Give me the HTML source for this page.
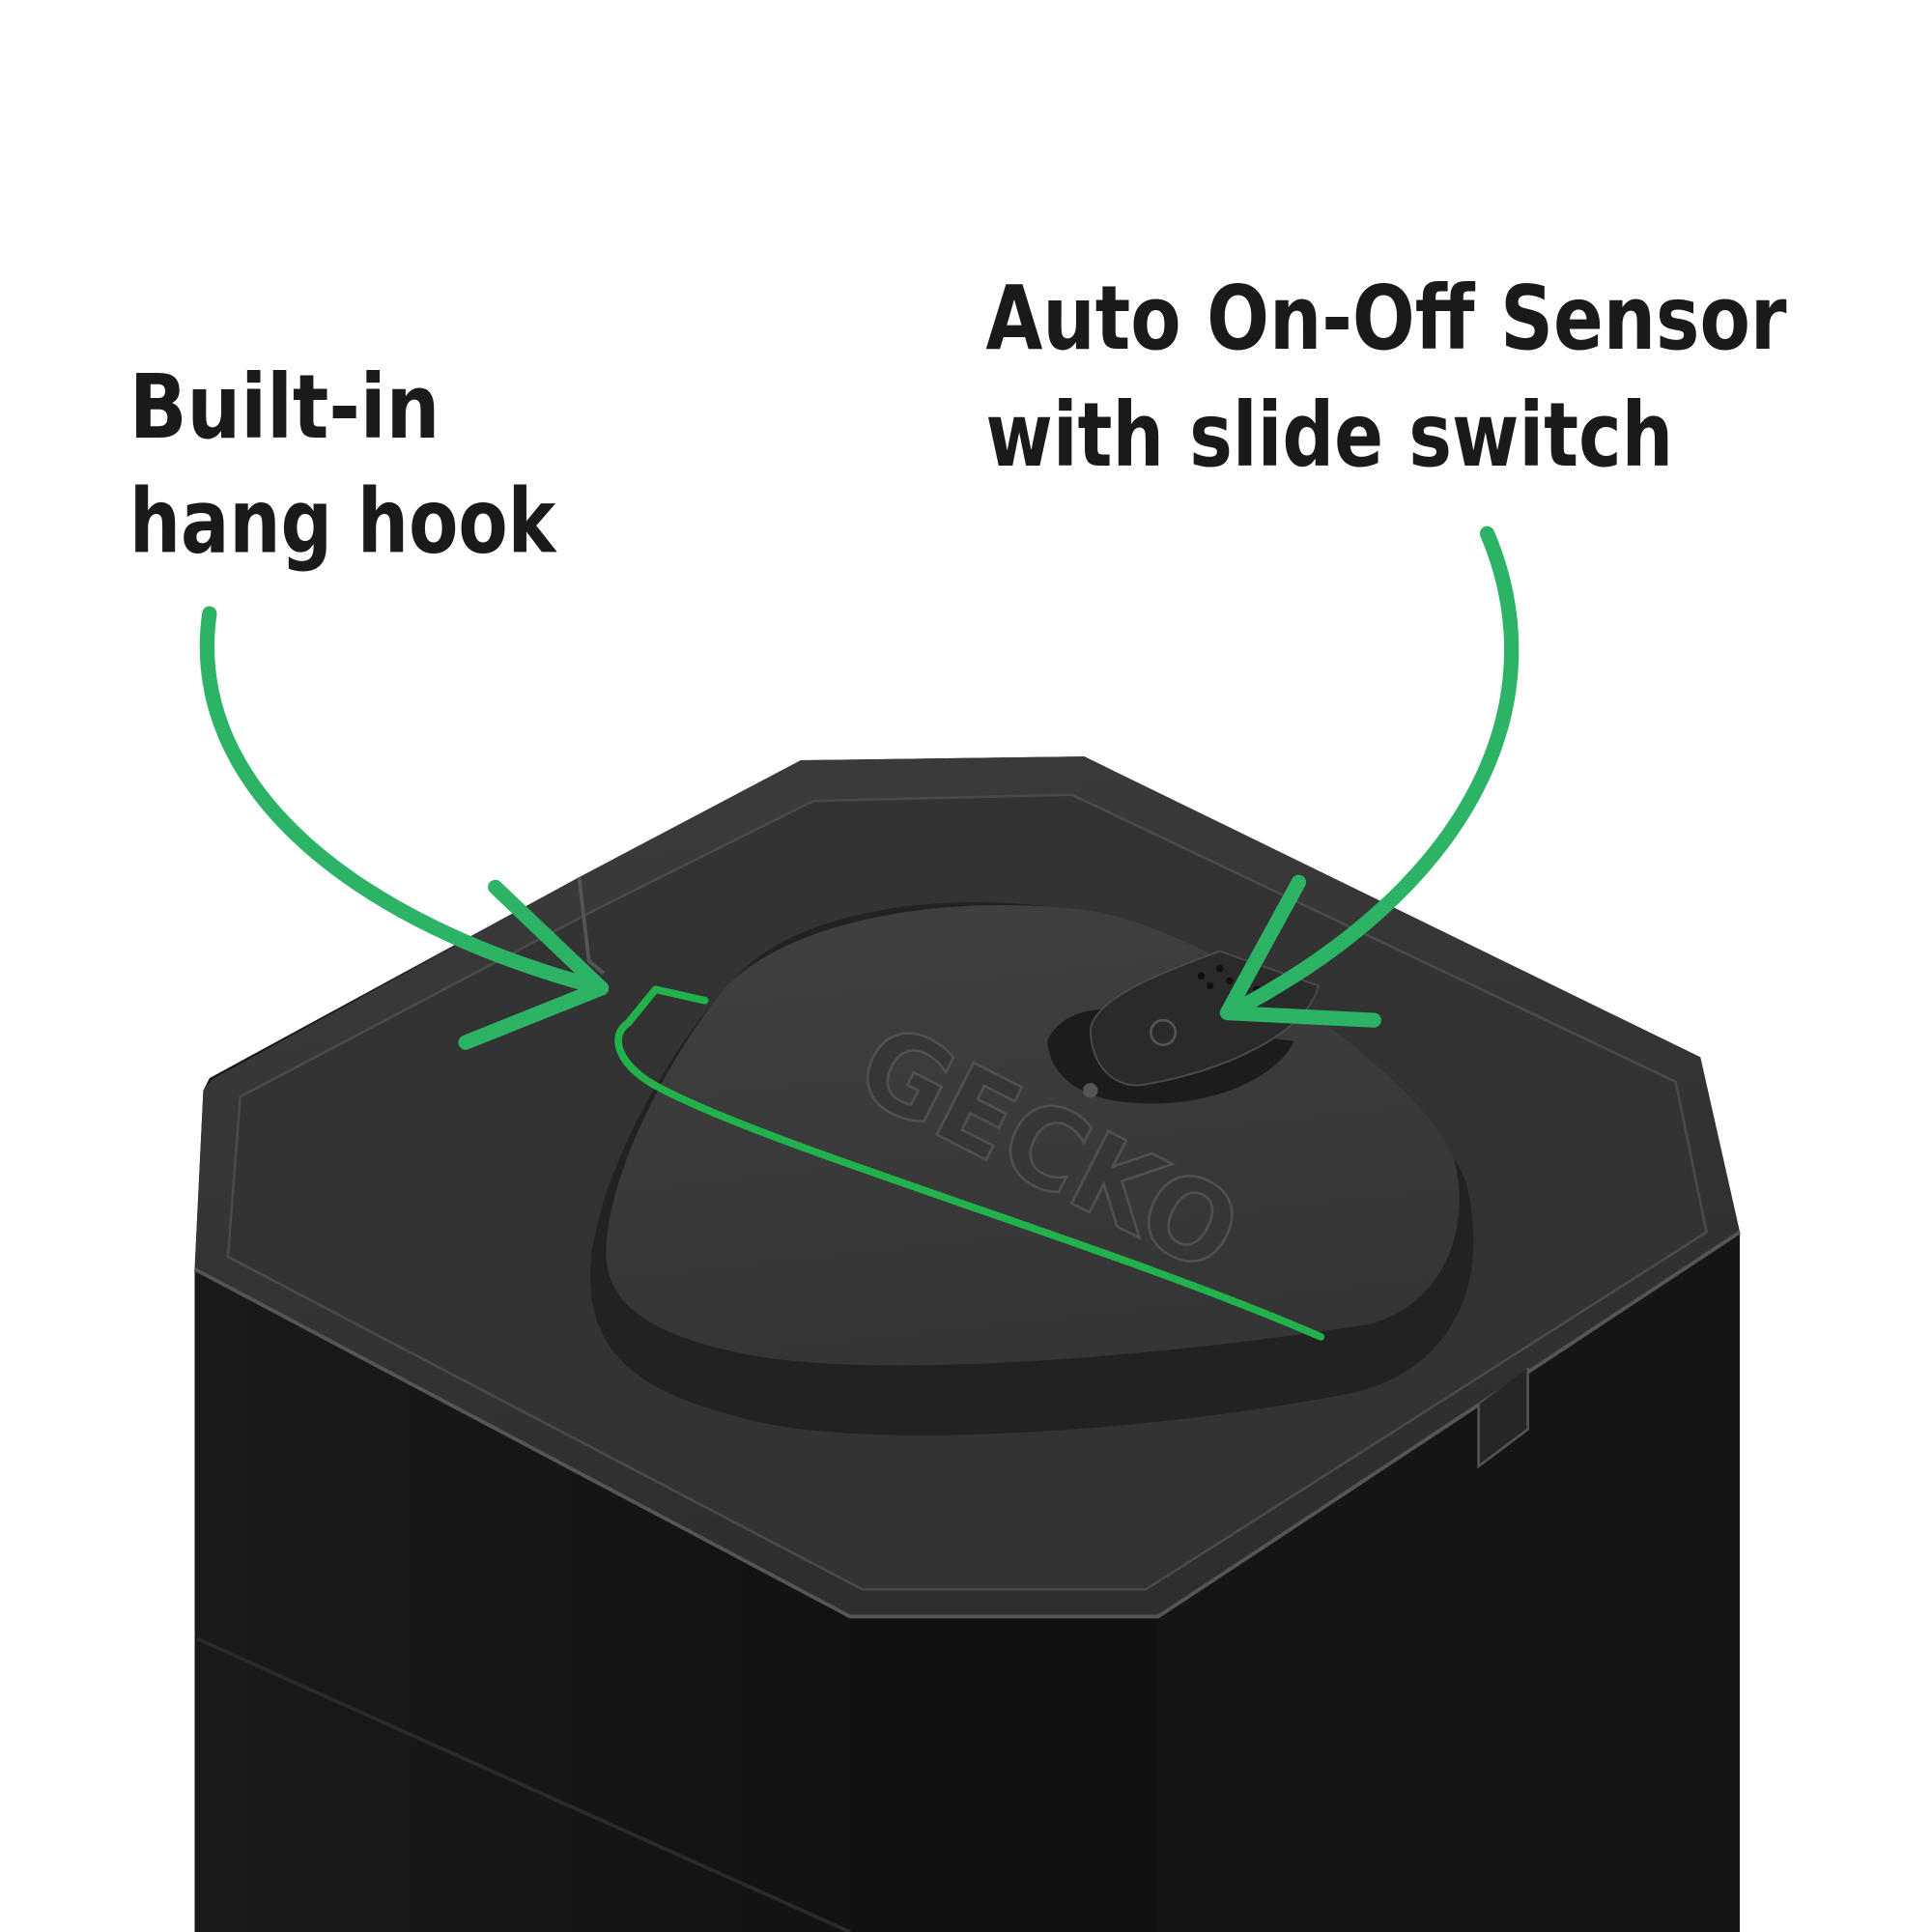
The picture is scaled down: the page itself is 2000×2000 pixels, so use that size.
<!DOCTYPE html>
<html><head><meta charset="utf-8"><style>
html,body{margin:0;padding:0;background:#fff}
svg{display:block}
text{font-family:"DejaVu Sans Condensed","Liberation Sans",sans-serif;font-weight:bold;fill:#1a1a1a}
</style></head><body>
<svg width="2000" height="2000" viewBox="0 0 1568 1568" xmlns="http://www.w3.org/2000/svg">
<defs>
<linearGradient id="top" x1="0" y1="0" x2="0.3" y2="1">
<stop offset="0" stop-color="#3c3c3c"/><stop offset="1" stop-color="#2e2e2e"/>
</linearGradient>
<linearGradient id="pad" x1="0" y1="0" x2="0.2" y2="1">
<stop offset="0" stop-color="#404040"/><stop offset="1" stop-color="#353535"/>
</linearGradient>
<linearGradient id="sideL" x1="0" y1="0" x2="1" y2="0">
<stop offset="0" stop-color="#1a1a1a"/><stop offset="1" stop-color="#121212"/>
</linearGradient>
</defs>
<rect width="1568" height="1568" fill="#fff"/>
<polygon points="170,875 470,712 650,617 880,614 1380,858 1412,1000 1412,1568 158,1568 158,1030 165,885" fill="#151515"/>
<polygon points="158,1030 690,1312 690,1568 158,1568" fill="url(#sideL)"/>
<polygon points="690,1312 940,1312 940,1568 690,1568" fill="#111"/>
<line x1="160" y1="1330" x2="690" y2="1568" stroke="#2a2a2a" stroke-width="3"/>
<polygon points="172,876 470,712 650,617 880,614 1380,858 1412,1000 940,1312 690,1312 158,1030 165,885" fill="url(#top)"/>
<polygon points="195,890 480,740 660,650 870,645 1360,878 1385,1000 930,1290 700,1290 185,1020" fill="#333" stroke="#4a4a4a" stroke-width="2"/>
<polyline points="158,1030 690,1312 940,1312 1412,1000" fill="none" stroke="#555" stroke-width="3"/>
<path d="M480,1050 C470,980 540,850 600,790 C660,730 800,720 900,745 C1000,770 1160,880 1190,960 C1210,1040 1180,1110 1100,1130 C950,1160 700,1180 600,1150 C520,1130 485,1100 480,1050Z" fill="#222"/>
<path d="M492,1020 C490,960 540,860 590,800 C650,740 790,725 890,740 C990,760 1150,870 1180,940 C1195,1000 1170,1060 1110,1075 C950,1100 720,1120 610,1100 C530,1085 494,1060 492,1020Z" fill="url(#pad)"/>
<text x="0" y="0" font-size="90" style="fill:#363636;stroke:#505050;stroke-width:2" transform="translate(690,885) rotate(27)" textLength="330" lengthAdjust="spacingAndGlyphs">GECKO</text>
<path d="M850,845 C860,820 900,810 930,830 L1050,845 C1040,870 990,900 920,895 C880,893 852,875 850,845Z" fill="#1c1c1c"/>
<path d="M885,835 C890,810 940,790 990,772 L1070,800 C1060,840 990,870 930,880 C905,885 885,865 885,835Z" fill="#2a2a2a" stroke="#4a4a4a" stroke-width="1.5"/>
<circle cx="944" cy="838" r="10" fill="none" stroke="#555" stroke-width="2"/>
<circle cx="885" cy="885" r="6" fill="#555"/>
<g fill="#111"><circle cx="975" cy="792" r="3"/><circle cx="990" cy="786" r="3"/><circle cx="982" cy="800" r="3"/><circle cx="998" cy="796" r="3"/><circle cx="1010" cy="790" r="3"/><circle cx="1020" cy="803" r="3"/><circle cx="1036" cy="805" r="3"/></g>
<path d="M470,712 L478,780 L490,790" fill="none" stroke="#555" stroke-width="3"/>
<path d="M1200,1140 L1200,1190 L1240,1160 L1240,1110" fill="#262626" stroke="#555" stroke-width="2"/>
<path d="M1072,1085 C900,1010 620,930 530,880 C500,862 495,840 510,830 L532,803 L572,812" fill="none" stroke="#22b24c" stroke-width="6" stroke-linecap="round" stroke-linejoin="round"/>
<g fill="none" stroke="#2db365" stroke-width="12" stroke-linecap="round" stroke-linejoin="round">
<path d="M170,498 C150,640 290,750 488,802"/>
<polyline points="402,720 488,802 378,846"/>
<path d="M1207,433 C1265,570 1195,720 998,822"/>
<polyline points="1054,716 996,822 1115,828"/>
</g>
<text x="105" y="355" font-size="72" textLength="252" lengthAdjust="spacingAndGlyphs">Built-in</text>
<text x="105" y="448" font-size="72" textLength="346" lengthAdjust="spacingAndGlyphs">hang hook</text>
<text x="800" y="283" font-size="72" textLength="650" lengthAdjust="spacingAndGlyphs">Auto On-Off Sensor</text>
<text x="800" y="378" font-size="72" textLength="558" lengthAdjust="spacingAndGlyphs">with slide switch</text>
</svg>
</body></html>
